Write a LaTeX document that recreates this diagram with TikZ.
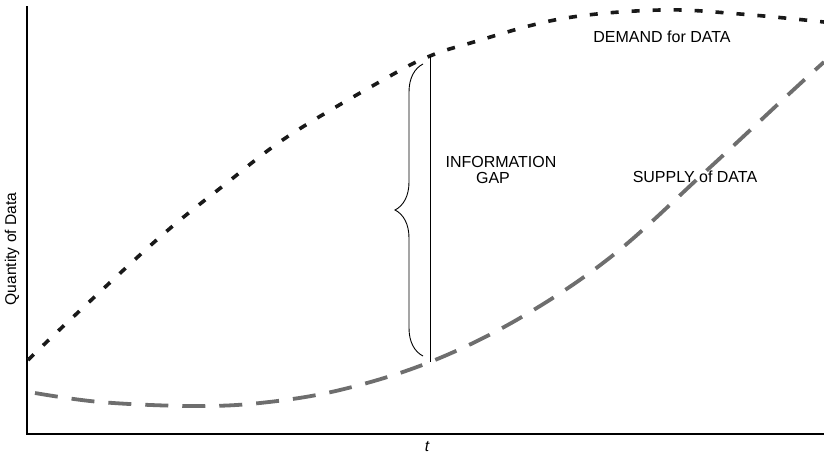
\documentclass[tikz,border=0pt]{standalone}
\usepackage{fontspec}
\setmainfont{Liberation Sans}
\usetikzlibrary{decorations.pathreplacing}
\begin{document}
\begin{tikzpicture}[x=1pt,y=-1pt,
  axis/.style={line width=2pt,black},
  demandcurve/.style={line width=3.6pt,color=black!90,dash pattern=on 8pt off 13pt},
  supplycurve/.style={line width=3.8pt,color=black!57,dash pattern=on 23pt off 14pt},
  gapline/.style={line width=0.9pt,black},
  label/.style={font=\fontsize{16}{18}\selectfont,inner sep=0pt}]
\useasboundingbox (0,0) rectangle (824,458);
% axes
\coordinate (ytop) at (26.5,6);
\coordinate (origin) at (26.5,434);
\coordinate (xend) at (824,434);
\draw[axis] (ytop) -- (origin) -- (xend);
% demand for data
\draw[demandcurve] plot[smooth,tension=0.6] coordinates {
  (28,360) (72,318) (160,237) (223,186) (290,135) (390,76) (430,56)
  (467,44) (560,19) (660,10) (740,14) (824,22)};
% supply of data
\draw[supplycurve] plot[smooth,tension=0.6] coordinates {
  (35,393) (100,402) (190,406) (260,403) (340,390) (430,362)
  (520,318) (612,256) (705,172) (790,93) (824,62)};
% gap between the curves
\coordinate (dtop) at (430,56);
\coordinate (sbot) at (430,362);
\draw[gapline] (dtop) -- (sbot);
\coordinate (bracebot) at (423,356);
\coordinate (bracetop) at (423,64);
\draw[line width=0.9pt,decorate,decoration={brace,amplitude=28pt}] (bracebot) -- (bracetop);
% labels
\node[label] (info) at (501,162) {INFORMATION};
\node[label] (gap) at (493,178) {GAP};
\node[label] (demand) at (662,37) {DEMAND for DATA};
\node[label] (supply) at (695,177) {SUPPLY of DATA};
\node[label,font=\fontsize{15.6}{18}\selectfont,rotate=90] (ylab) at (12,249) {Quantity of Data};
\node[label,font=\fontsize{15.6}{18}\selectfont\itshape] (tlab) at (427,447) {t};
\end{tikzpicture}
\end{document}
